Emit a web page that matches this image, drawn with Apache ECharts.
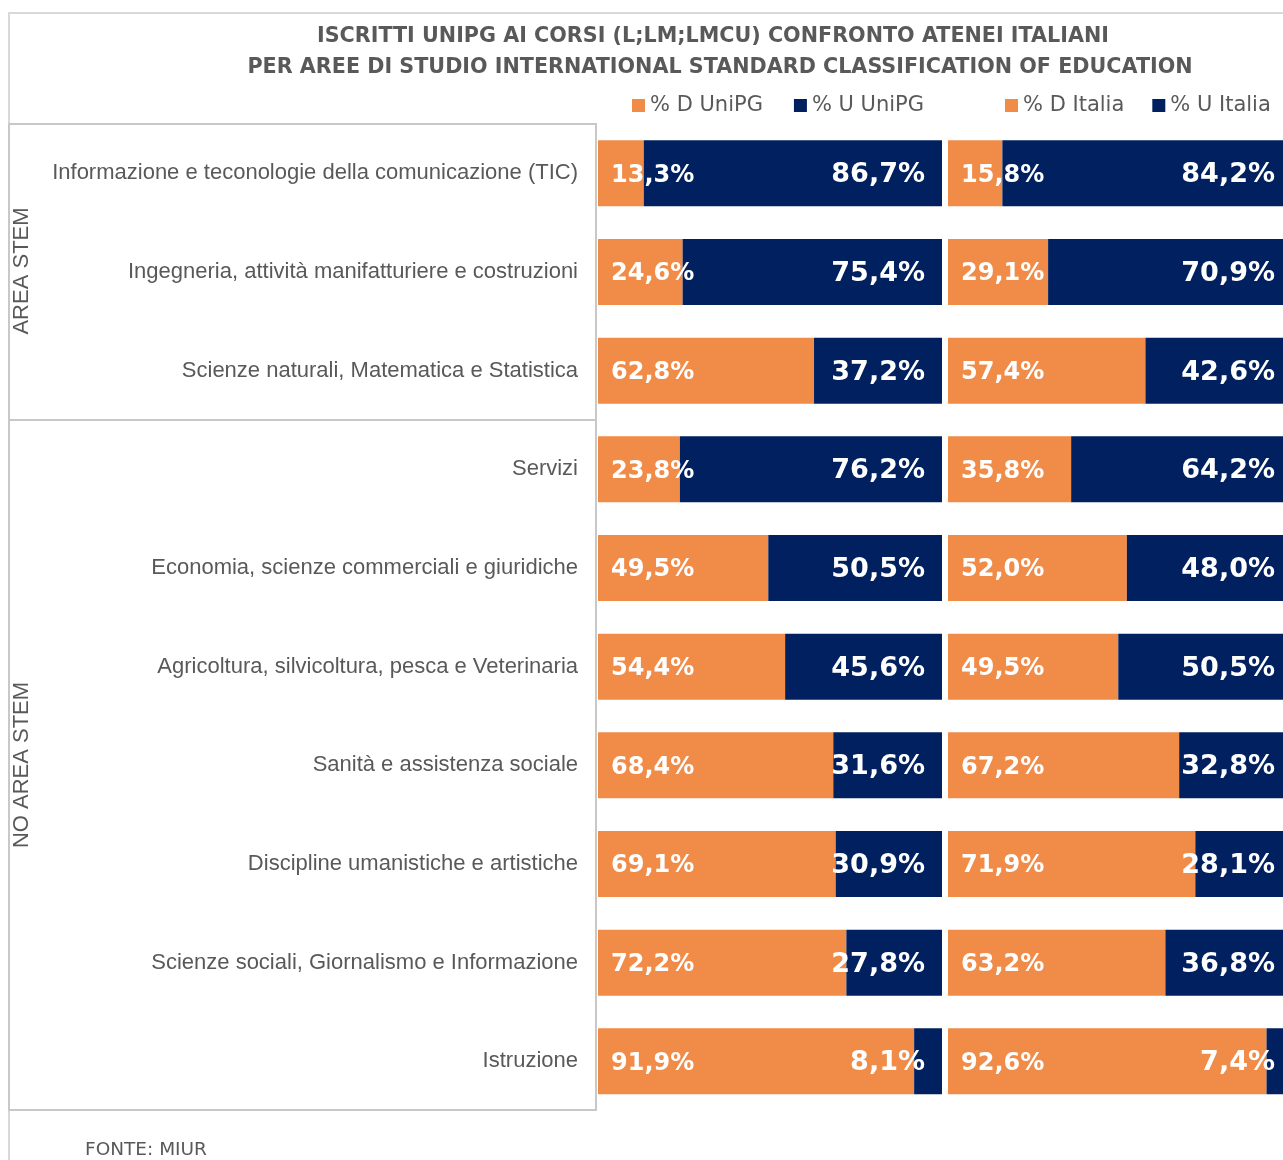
<!DOCTYPE html>
<html>
<head>
<meta charset="utf-8">
<script src="https://cdn.jsdelivr.net/npm/echarts@6/dist/echarts.min.js"></script>
<style>
html,body{margin:0;padding:0;background:#fff;}
#c{width:1283px;height:1160px;}
</style>
</head>
<body>
<div id="c"></div>
<script>
const categories = [
  'Informazione e teconologie della comunicazione (TIC)',
  'Ingegneria, attività manifatturiere e costruzioni',
  'Scienze naturali, Matematica e Statistica',
  'Servizi',
  'Economia, scienze commerciali e giuridiche',
  'Agricoltura, silvicoltura, pesca e Veterinaria',
  'Sanità e assistenza sociale',
  'Discipline umanistiche e artistiche',
  'Scienze sociali, Giornalismo e Informazione',
  'Istruzione'
];
const dUnipg  = [13.3, 24.6, 62.8, 23.8, 49.5, 54.4, 68.4, 69.1, 72.2, 91.9];
const uUnipg  = [86.7, 75.4, 37.2, 76.2, 50.5, 45.6, 31.6, 30.9, 27.8, 8.1];
const dItalia = [15.8, 29.1, 57.4, 35.8, 52.0, 49.5, 67.2, 71.9, 63.2, 92.6];
const uItalia = [84.2, 70.9, 42.6, 64.2, 48.0, 50.5, 32.8, 28.1, 36.8, 7.4];
const seriesNames = ['% D UniPG', '% U UniPG', '% D Italia', '% U Italia'];
const groupLabels = ['AREA STEM', 'NO AREA STEM'];
const titleLines = [
  'ISCRITTI UNIPG AI CORSI (L;LM;LMCU) CONFRONTO ATENEI ITALIANI',
  'PER AREE DI STUDIO INTERNATIONAL STANDARD CLASSIFICATION OF EDUCATION'
];
const sourceText = 'FONTE: MIUR';

const ORANGE = '#F08B48';
const NAVY = '#002060';
const GRAY = '#595959';
const WIDE = 'DejaVu Sans, Verdana, sans-serif';
const ARIAL = 'Liberation Sans, Arial, sans-serif';

const fmt = p => p.value.toFixed(1).replace('.', ',') + '%';

function mkSeries(name, data, idx, color, isD) {
  return {
    name, type: 'bar', stack: 's' + idx, xAxisIndex: idx, yAxisIndex: idx,
    data, barWidth: 66, itemStyle: {color}, clip: false,
    label: {
      show: true, color: '#fff', fontFamily: WIDE, fontWeight: 'bold',
      fontSize: isD ? 24 : 27, formatter: fmt, offset: [0, 2],
      position: isD ? 'insideLeft' : 'insideRight', distance: isD ? 13 : 17
    },
    emphasis: {disabled: true}
  };
}

const chart = echarts.init(document.getElementById('c'));
const gridTop = 124, gridH = 986.67;
const legendText = {color: GRAY, fontSize: 21, fontFamily: WIDE};
chart.setOption({
  animation: false,
  grid: [
    {left: 598, width: 344, top: gridTop, height: gridH, outerBoundsMode: 'none'},
    {left: 948, width: 344, top: gridTop, height: gridH, outerBoundsMode: 'none'}
  ],
  xAxis: [
    {type: 'value', gridIndex: 0, min: 0, max: 100, show: false},
    {type: 'value', gridIndex: 1, min: 0, max: 100, show: false}
  ],
  yAxis: [
    {type: 'category', gridIndex: 0, data: categories, inverse: true,
     axisLine: {show: false}, axisTick: {show: false}, splitLine: {show: false},
     axisLabel: {color: GRAY, fontSize: 22, margin: 20, fontFamily: ARIAL, padding: [4, 0, 0, 0]}},
    {type: 'category', gridIndex: 1, data: categories, inverse: true, show: false}
  ],
  legend: [
    {data: seriesNames.slice(0, 2), left: 632, top: 95, padding: 0, icon: 'rect', itemWidth: 13, itemHeight: 13, itemGap: 31,
     textStyle: legendText, selectedMode: false},
    {data: seriesNames.slice(2, 4), left: 1005, top: 95, padding: 0, icon: 'rect', itemWidth: 13, itemHeight: 13, itemGap: 28,
     textStyle: legendText, selectedMode: false}
  ],
  series: [
    mkSeries(seriesNames[0], dUnipg, 0, ORANGE, true),
    mkSeries(seriesNames[1], uUnipg, 0, NAVY, false),
    mkSeries(seriesNames[2], dItalia, 1, ORANGE, true),
    mkSeries(seriesNames[3], uItalia, 1, NAVY, false)
  ],
  graphic: [
    {type: 'polyline', silent: true, shape: {points: [[9, 1160], [9, 13], [1283, 13]]}, style: {stroke: '#d9d9d9', lineWidth: 2, fill: null}},
    {type: 'rect', silent: true, shape: {x: 9, y: 124, width: 587, height: 986}, style: {stroke: '#c8c8c8', lineWidth: 2, fill: null}},
    {type: 'line', silent: true, shape: {x1: 9, y1: 420, x2: 596, y2: 420}, style: {stroke: '#c8c8c8', lineWidth: 2}},
    {type: 'text', silent: true, x: 22, y: 271, rotation: Math.PI / 2,
     style: {text: groupLabels[0], fill: GRAY, fontSize: 22, fontFamily: ARIAL, align: 'center', verticalAlign: 'middle'}},
    {type: 'text', silent: true, x: 22, y: 765, rotation: Math.PI / 2,
     style: {text: groupLabels[1], fill: GRAY, fontSize: 22, fontFamily: ARIAL, align: 'center', verticalAlign: 'middle'}},
    {type: 'text', silent: true, x: 713, y: 36.5,
     style: {text: titleLines[0], fill: GRAY, fontSize: 20.7, fontWeight: 'bold', fontFamily: WIDE, align: 'center', verticalAlign: 'middle'}},
    {type: 'text', silent: true, x: 720, y: 68,
     style: {text: titleLines[1], fill: GRAY, fontSize: 20.7, fontWeight: 'bold', fontFamily: WIDE, align: 'center', verticalAlign: 'middle'}},
    {type: 'text', silent: true, x: 85, y: 1150,
     style: {text: sourceText, fill: GRAY, fontSize: 18.5, fontFamily: WIDE, align: 'left', verticalAlign: 'middle'}}
  ]
});
</script>
</body>
</html>
